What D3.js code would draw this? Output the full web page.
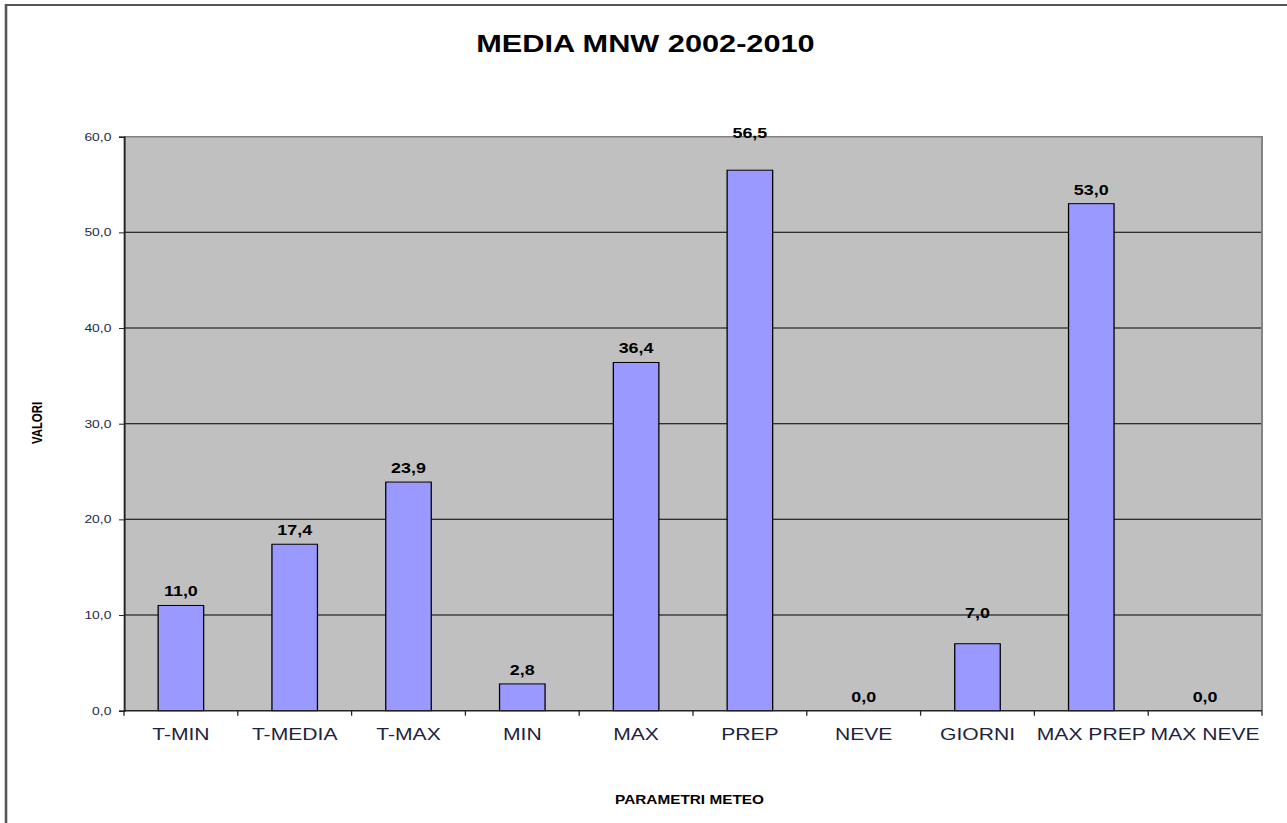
<!DOCTYPE html>
<html>
<head>
<meta charset="utf-8">
<script src="https://cdn.jsdelivr.net/npm/d3@7"></script>
<style>
  body { margin: 0; background: #fff; }
  text { font-family: "Liberation Sans", Arial, sans-serif; }
</style>
</head>
<body>
<div id="chart-area"></div>
<script>
// data
let categories = ["T-MIN", "T-MEDIA", "T-MAX", "MIN", "MAX", "PREP", "NEVE", "GIORNI", "MAX PREP", "MAX NEVE"];
let values = [11.0, 17.4, 23.9, 2.8, 36.4, 56.5, 0.0, 7.0, 53.0, 0.0];
let yTicks = [0, 10, 20, 30, 40, 50, 60];

// the original picture is stretched sideways, so draw in a narrower box and stretch it
let stretch = 1.28;
let W = 1287, H = 823;
let vbW = W / stretch;

let margin = {top: 136.7, left: 124 / stretch, right: vbW - 1262 / stretch, bottom: H - 710.7};

// labels that Excel pushed up a bit further
let labelLift = {"PREP": 23, "GIORNI": 17};

let data = categories.map((c, i) => ({name: c, value: values[i]}));

let svg = d3.select('#chart-area').append('svg')
    .attr('width', W)
    .attr('height', H)
    .attr('viewBox', `0 0 ${vbW} ${H}`)
    .attr('preserveAspectRatio', 'none');

// outer frame
svg.append('rect')
    .attr('x', 6 / stretch).attr('y', 5)
    .attr('width', vbW + 20).attr('height', H + 20)
    .attr('fill', 'none')
    .attr('stroke', '#555')
    .attr('stroke-width', 2);

let x = d3.scaleBand()
    .domain(categories)
    .range([margin.left, vbW - margin.right])
    .paddingInner(0.6)
    .paddingOuter(0.3);

let xEdge = d3.scaleLinear()
    .domain([0, categories.length])
    .range([margin.left, vbW - margin.right]);

let y = d3.scaleLinear()
    .domain([0, 60])
    .range([H - margin.bottom, margin.top]);

// plot background
svg.append('rect')
    .attr('x', margin.left).attr('y', y(60))
    .attr('width', vbW - margin.right - margin.left)
    .attr('height', y(0) - y(60))
    .attr('fill', '#c0c0c0');

// grid lines
svg.append('g')
    .selectAll('line')
    .data(yTicks.filter(d => d > 0 && d < 60))
    .enter()
    .append('line')
    .attr('x1', margin.left).attr('x2', vbW - margin.right)
    .attr('y1', d => y(d)).attr('y2', d => y(d))
    .attr('stroke', '#000')
    .attr('stroke-width', 1);

// gray top and right border
svg.append('path')
    .attr('d', `M${margin.left},${y(60)}H${vbW - margin.right}V${y(0)}`)
    .attr('fill', 'none')
    .attr('stroke', '#808080')
    .attr('stroke-width', 1.5);

// bars
svg.selectAll('rect.bar')
    .data(data)
    .enter()
    .append('rect')
    .attr('class', 'bar')
    .attr('x', d => x(d.name))
    .attr('width', x.bandwidth())
    .attr('y', d => y(d.value))
    .attr('height', d => y(0) - y(d.value))
    .attr('fill', '#9999ff')
    .attr('stroke', '#000')
    .attr('stroke-width', 1);

// value labels
svg.selectAll('text.val')
    .data(data)
    .enter()
    .append('text')
    .attr('class', 'val')
    .attr('x', d => x(d.name) + x.bandwidth() / 2)
    .attr('y', d => y(d.value) - 9 - (labelLift[d.name] || 0))
    .attr('text-anchor', 'middle')
    .attr('font-size', 14)
    .attr('font-weight', 'bold')
    .attr('fill', '#000')
    .text(d => d.value.toFixed(1).replace('.', ','));

// y axis
let yaxis = d3.axisLeft(y)
    .tickValues(yTicks)
    .tickSize(5 / stretch)
    .tickPadding(6)
    .tickFormat(d => d.toFixed(1).replace('.', ','));

let gy = svg.append('g')
    .attr('transform', `translate(${margin.left},0)`)
    .call(yaxis);
gy.select('.domain').attr('stroke', '#222').attr('stroke-width', 1.5);
gy.selectAll('.tick line').attr('stroke', '#222');
gy.selectAll('.tick text')
    .attr('font-size', 10.8)
    .attr('fill', '#1c2a48')
    .attr('font-family', '"Liberation Sans", Arial, sans-serif');

// x axis: ticks at category edges
let gx = svg.append('g')
    .attr('transform', `translate(0,${y(0)})`);
gx.append('line')
    .attr('x1', margin.left).attr('x2', vbW - margin.right)
    .attr('stroke', '#222').attr('stroke-width', 1.5);
gx.selectAll('line.tk')
    .data(d3.range(categories.length + 1))
    .enter()
    .append('line')
    .attr('class', 'tk')
    .attr('x1', d => xEdge(d)).attr('x2', d => xEdge(d))
    .attr('y1', 0).attr('y2', 5)
    .attr('stroke', '#222');
gx.selectAll('text')
    .data(categories)
    .enter()
    .append('text')
    .attr('x', d => x(d) + x.bandwidth() / 2)
    .attr('y', 740 - y(0))
    .attr('text-anchor', 'middle')
    .attr('font-size', 16.5)
    .attr('fill', '#1c2340')
    .text(d => d);

// title
svg.append('text')
    .attr('x', 645.5 / stretch)
    .attr('y', 52)
    .attr('text-anchor', 'middle')
    .attr('font-size', 24)
    .attr('font-weight', 'bold')
    .attr('fill', '#000')
    .text('MEDIA MNW 2002-2010');

// axis titles
svg.append('text')
    .attr('transform', `translate(${41.5 / stretch},423) rotate(-90)`)
    .attr('text-anchor', 'middle')
    .attr('font-size', 11.4)
    .attr('font-weight', 'bold')
    .attr('fill', '#000')
    .text('VALORI');

svg.append('text')
    .attr('x', 689.5 / stretch)
    .attr('y', 804)
    .attr('text-anchor', 'middle')
    .attr('font-size', 12)
    .attr('font-weight', 'bold')
    .attr('fill', '#000')
    .text('PARAMETRI METEO');
</script>
</body>
</html>
